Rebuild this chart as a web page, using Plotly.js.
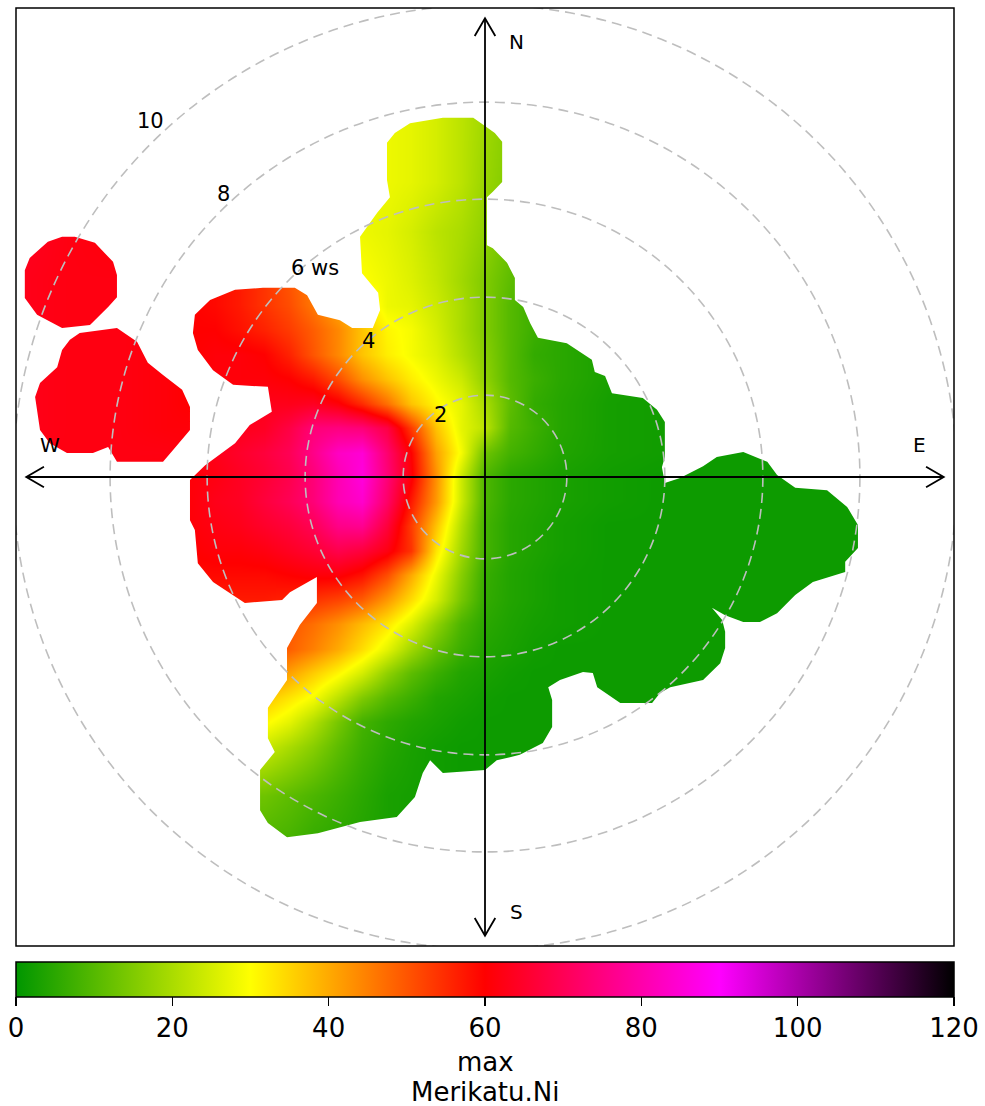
<!DOCTYPE html>
<html><head><meta charset="utf-8">
<script src="https://cdn.plot.ly/plotly-3.0.1.min.js"></script>
<style>html,body{margin:0;padding:0;background:#fff;} #chart{width:985px;height:1106px;}</style>
</head><body><div id="chart"></div>
<script>
// ---- data: estimated concentration field (plot units, 1 unit = ring spacing / 2) ----
const gridU = [-9.5,-8.5,-7.5,-6.5,-6,-5.5,-5,-4.5,-4,-3.5,-3,-2.5,-2,-1.5,-1,-0.5,0,0.5,1,1.5,2.5,3.5,4.5,5.5,6.5,7.5];
const gridV = [-7.5,-6.5,-5.5,-5,-4.5,-4,-3.5,-3,-2.5,-2,-1.5,-1,-0.5,0,0.5,1,1.5,2,2.5,3,3.5,4,5,6,7.5];
const conc = [
 [9,9,9,9,9,9,9,9,8,6,5,4,3,2.5,2,1.5,1.5,1.5,1.5,1.5,1.5,1.5,1.5,1.5,1.5,1.5],
 [13,13,13,13,13,13,13,13,11,9,7,5,3,2.5,2,1.5,1.5,1.5,1.5,1.5,1.5,1.5,1.5,1.5,1.5,1.5],
 [26,26,26,26,26,26,26,24,20,16,11,7,4.5,3,2,1.5,1.5,1.5,1.5,1.5,1.5,1.5,1.5,1.5,1.5,1.5],
 [32,32,32,32,32,32,32,31,27,21,14,8,5.5,4,3,2,1.5,1.5,1.5,1.5,1.5,1.5,1.5,1.5,1.5,1.5],
 [40,40,40,40,40,40,40,37,33,29,22,15,10,7,4,3,2,1.5,1.5,1.5,1.5,1.5,1.5,1.5,1.5,1.5],
 [47,47,47,47,47,47,47,45,41,36,31,25,17,11,7,4,3,2,1.5,1.5,1.5,1.5,1.5,1.5,1.5,1.5],
 [52,52,52,52,52,52,52,51,49,45,40,34,27,19,12,7,4,3,2,1.5,1.5,1.5,1.5,1.5,1.5,1.5],
 [54,54,54,54,54,54,54,53,50,47,43,38,33,26,17,9,5,3.5,2.5,2,1.5,1.5,1.5,1.5,1.5,1.5],
 [57,57,57,57,57,57,57,57,56,54,52,49,42,34,25,14,6,4,3,2,1.5,1.5,1.5,1.5,1.5,1.5],
 [59,59,59,59,59,59,59,59,60,61,61,58,51,40,28,16,6.5,4,3,2,1.5,1.5,1.5,1.5,1.5,1.5],
 [60,60,60,60,60,61,61,62,64,66,69,67,62,54,33,19,8,4.5,3.5,2.5,1.5,1.5,1.5,1.5,1.5,1.5],
 [61,61,61,61,61,62,63,65,67,70,76,77,67,53,37,21,8,4.5,3.5,2.5,1.5,1.5,1.5,1.5,1.5,1.5],
 [61,61,61,61,61,63,64,67,70,74,81,84,72,57,42,24,9,5,4,3,2,1.5,1.5,1.5,1.5,1.5],
 [62,62,62,61,61,62,64,66,69,74,81,86,74,61,43,24,9,5,4,3,2,1.5,1.5,1.5,1.5,1.5],
 [62,62,62,62,61,63,65,67,70,76,83,85,73,60,41,29,13,8,6,4,2.5,2,1.5,1.5,1.5,1.5],
 [63,62,62,61,61,62,63,64,68,74,75,74,68,53,37,27,22,10,7,4.5,2.5,2,1.5,1.5,1.5,1.5],
 [63,62,62,61,60,61,62,63,63,64,61,55,47,37,31,27,20,11,6,4.5,2.5,2,2,2,2,2],
 [63,62,62,61,60,61,61,61,60,57,51,43,37,32,28,24,17,10,7,5,3,2,2,2,2,2],
 [63,62,62,61,60,61,61,60,56,50,44,37,32,29,26,21,16,10,6,5,3,2.5,2.5,2.5,2.5,2.5],
 [63,62,62,61,60,60,58,56,53,49,44,37,31,29,25,20,15,10,7,5,3,2.5,2.5,2.5,2.5,2.5],
 [63,62,62,61,60,59,57,54,51,46,40,34,28,27,24,20,15,10,7,5,3,2.5,2.5,2.5,2.5,2.5],
 [63,62,62,61,60,59,57,54,50,45,38,30,28,26,23,19,15,11,8,5,3,2.5,2.5,2.5,2.5,2.5],
 [64,62,61,60,60,59,57,54,50,42,32,28,27,25,22,20,17,13,9,6,3,2.5,2.5,2.5,2.5,2.5],
 [64,62,61,60,60,59,57,54,50,40,30,28,28,27,25,22,18,15,10,6,3,2.5,2.5,2.5,2.5,2.5],
 [64,62,61,60,60,59,57,54,50,40,30,28,28,27,25,22,19,16,11,6,3,2.5,2.5,2.5,2.5,2.5]
];
// outline of the area with data (main region and two isolated patches)
const mainU = [-1.53,-0.86,-0.24,0,0.20,0.35,0.35,0.16,0.04,0.04,0.16,0.45,0.61,0.61,0.78,0.92,1.08,1.67,1.94,2.18,2.24,2.45,2.59,3.22,3.51,3.67,3.67,3.61,3.67,3.98,4.45,4.73,5.27,5.76,5.96,6.33,6.98,7.39,7.61,7.61,7.35,7.35,6.69,6.33,5.96,5.61,5.27,4.90,4.63,4.84,4.90,4.90,4.80,4.45,3.78,3.57,3.41,2.76,2.29,2.20,2.00,1.53,1.29,1.37,1.37,1.18,0.71,0.24,0,-0.86,-1.12,-1.27,-1.43,-1.80,-2.55,-3.41,-4.04,-4.43,-4.59,-4.59,-4.29,-4.43,-4.43,-4.04,-4.04,-3.78,-3.43,-3.43,-3.98,-4.14,-4.90,-5.55,-5.86,-5.92,-6.02,-6.02,-5.71,-5.10,-4.80,-4.35,-4.43,-5.14,-5.55,-5.86,-5.96,-5.92,-5.61,-5.10,-4.53,-3.88,-3.63,-3.41,-2.96,-2.71,-2.29,-2.14,-2.18,-2.51,-2.55,-2.20,-1.94,-2.00,-2.00,-1.84];
const mainV = [7.22,7.33,7.33,7.16,7.02,6.84,6.02,5.82,5.71,4.73,4.67,4.37,4.06,3.61,3.47,3.14,2.84,2.73,2.55,2.39,2.14,2.06,1.71,1.61,1.37,1.12,0.41,0.20,-0.12,-0.02,0.22,0.41,0.51,0.31,0.04,-0.22,-0.27,-0.61,-0.98,-1.45,-1.73,-1.94,-2.14,-2.41,-2.78,-2.96,-2.96,-2.82,-2.67,-2.92,-3.16,-3.49,-3.80,-4.14,-4.29,-4.41,-4.61,-4.61,-4.29,-4.00,-3.98,-4.14,-4.29,-4.55,-5.10,-5.43,-5.67,-5.78,-5.98,-6.04,-5.78,-6.04,-6.53,-6.94,-7.04,-7.27,-7.35,-7.06,-6.80,-5.98,-5.61,-5.33,-4.71,-4.14,-3.49,-3.02,-2.57,-2.04,-2.35,-2.51,-2.57,-2.14,-1.76,-1.08,-0.88,-0.06,0.24,0.69,1.06,1.33,1.84,1.88,2.18,2.59,2.94,3.31,3.61,3.82,3.86,3.86,3.71,3.31,3.20,3.04,3.04,3.41,3.76,4.16,4.90,5.39,5.71,6.06,6.82,7.02];
const islandAU = [-9.39,-9.29,-8.92,-8.63,-8.37,-7.96,-7.59,-7.51,-7.51,-7.69,-8.06,-8.63,-9.14,-9.39];
const islandAV = [4.22,4.47,4.80,4.90,4.90,4.78,4.39,4.12,3.67,3.47,3.10,3.04,3.31,3.65];
const islandBU = [-8.27,-7.51,-7.10,-6.88,-6.57,-6.18,-6.02,-6.02,-6.33,-6.57,-7.51,-7.69,-8.00,-8.53,-8.88,-9.08,-9.18,-9.08,-8.73,-8.63,-8.47];
const islandBV = [2.94,3.04,2.76,2.33,2.08,1.78,1.43,0.96,0.59,0.31,0.31,0.61,0.49,0.49,0.69,0.96,1.63,1.92,2.24,2.59,2.80];
// grid rings (wind speed labels) and colour bar
const ringWs = [2,4,6,8,10];
const ringRadius = [1.67,3.67,5.67,7.65,9.63];
const compass = ['N','E','S','W'];
const cbTicks = [0,20,40,60,80,100,120];
const cbTitle = ['max','Merikatu.Ni'];

// ---- layout constants ----
const R = 9.57;           // half axis range
const FONT = 'DejaVu Sans, Verdana, sans-serif';
const dirs = {N:[0,1],E:[1,0],S:[0,-1],W:[-1,0]};

function loop(us, vs){ return 'M ' + us.map((u,i)=>u+' '+vs[i]).join(' L ') + ' Z'; }

const shapes = [];
// white mask outside the data region
const B = 12;
shapes.push({type:'path', xref:'x', yref:'y', layer:'above', fillrule:'evenodd',
  path: loop([-B,B,B,-B],[-B,-B,B,B]) + ' ' + loop(mainU,mainV) + ' ' + loop(islandAU,islandAV) + ' ' + loop(islandBU,islandBV),
  fillcolor:'#ffffff', line:{width:0}});
// dashed rings
ringRadius.forEach(r=>shapes.push({type:'circle', xref:'x', yref:'y', layer:'above',
  x0:-r, x1:r, y0:-r, y1:r, line:{color:'#bebebe', width:1.6, dash:'10px,6px'}}));
// cross lines with open arrow heads
const tip = 9.36, back = 0.36, side = 0.21;
shapes.push({type:'line', xref:'x', yref:'y', layer:'above', x0:-tip, x1:tip, y0:0, y1:0, line:{color:'#000', width:1.8}});
shapes.push({type:'line', xref:'x', yref:'y', layer:'above', x0:0, x1:0, y0:-tip, y1:tip, line:{color:'#000', width:1.8}});
compass.forEach(k=>{
  const [dx,dy] = dirs[k];
  const tx = dx*tip, ty = dy*tip;
  const px = -dy, py = dx;
  const a = [tx - dx*back + px*side, ty - dy*back + py*side];
  const b = [tx - dx*back - px*side, ty - dy*back - py*side];
  shapes.push({type:'path', xref:'x', yref:'y', layer:'above',
    path:`M ${a[0]} ${a[1]} L ${tx} ${ty} L ${b[0]} ${b[1]}`, line:{color:'#000', width:1.8}});
});
// frame
shapes.push({type:'rect', xref:'paper', yref:'paper', layer:'above', x0:0, x1:1, y0:0, y1:1, line:{color:'#000', width:1.5}});

const annotations = [];
compass.forEach(k=>{
  const [dx,dy] = dirs[k];
  const off = dx===0 ? [0.65,0] : [0,0.65];
  annotations.push({x:dx*8.87+off[0], y:dy*8.87+off[1], xref:'x', yref:'y', text:k, showarrow:false,
    font:{family:FONT, size:20, color:'#000'}, xanchor:'center', yanchor:'middle'});
});
ringWs.forEach((w,i)=>{
  const x = 0.582 - 0.74*w, y = 0.75*w - 0.235;
  const isWs = (w===6);
  annotations.push({x: isWs ? x-0.15 : x, y:y, xref:'x', yref:'y', text: isWs ? w+' ws' : String(w),
    showarrow:false, font:{family:FONT, size:21, color:'#000'}, xanchor: isWs ? 'left' : 'center', yanchor:'middle'});
});
cbTitle.forEach((t,i)=>annotations.push({x:0.5, y:-0.1235 - i*0.032, xref:'paper', yref:'paper', text:t,
  showarrow:false, font:{family:FONT, size:26, color:'#000'}, xanchor:'center', yanchor:'middle'}));

const trace = {
  type:'heatmap', x:gridU, y:gridV, z:conc, zsmooth:'best', zmin:0, zmax:120,
  colorscale:[[0,'rgb(0,150,0)'],[0.25,'rgb(255,255,0)'],[0.5,'rgb(255,0,0)'],[0.75,'rgb(255,0,255)'],[1,'rgb(0,0,0)']],
  hoverinfo:'skip',
  colorbar:{orientation:'h', thickness:35, thicknessmode:'pixels', len:1, lenmode:'fraction',
    x:0.5, xanchor:'center', y:-0.01706, yanchor:'top', xpad:0, ypad:0,
    outlinecolor:'#000', outlinewidth:1.5, ticks:'outside', ticklen:9, tickwidth:1.5, tickcolor:'#000',
    tickmode:'array', tickvals:cbTicks, ticktext:cbTicks.map(String),
    tickfont:{family:FONT, size:26, color:'#000'}}
};

const layout = {
  width:985, height:1106, autosize:false,
  margin:{l:16, r:31, t:8, b:160, pad:0},
  paper_bgcolor:'#fff', plot_bgcolor:'#fff',
  xaxis:{range:[-R,R], visible:false, fixedrange:true},
  yaxis:{range:[-R,R], visible:false, fixedrange:true},
  shapes:shapes, annotations:annotations, showlegend:false,
  font:{family:FONT, color:'#000'}
};
Plotly.newPlot('chart', [trace], layout, {displayModeBar:false, staticPlot:true});
</script>
</body></html>
